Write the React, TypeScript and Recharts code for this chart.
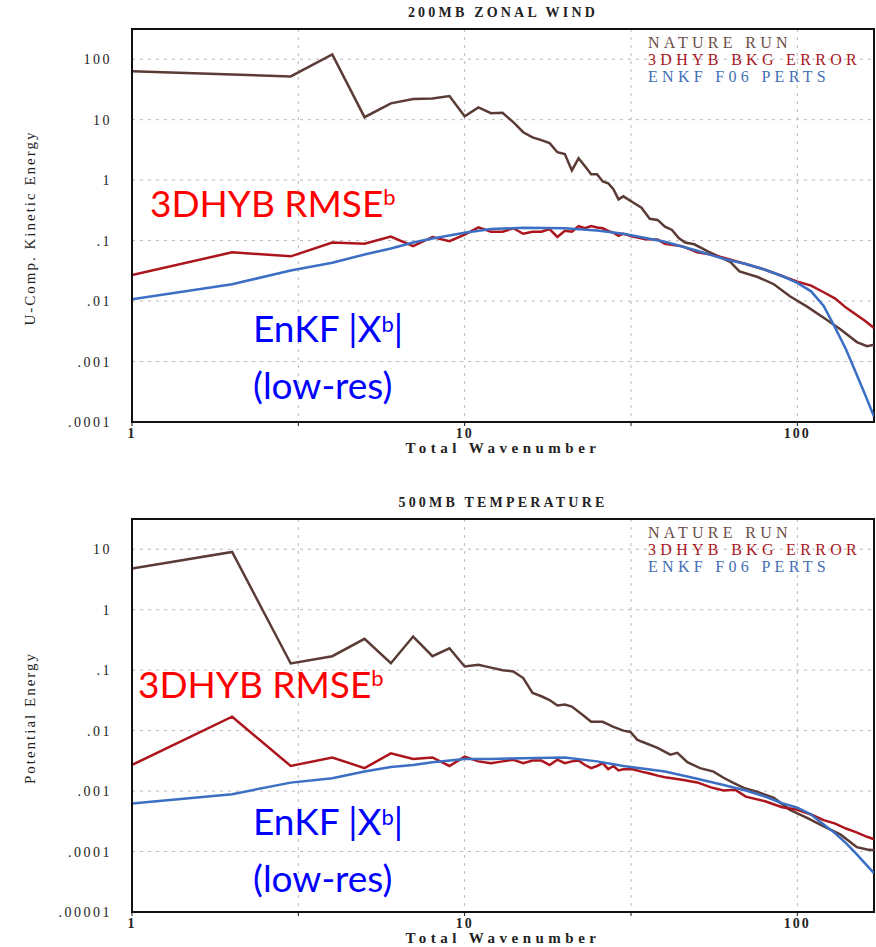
import React from 'react';
import { LineChart, Line, XAxis, YAxis, CartesianGrid, ReferenceArea, Legend } from 'recharts';

// ---------- shared labels ----------
const seriesNames = ['NATURE RUN', '3DHYB BKG ERROR', 'ENKF F06 PERTS'];
const chartTitles = ['200MB ZONAL WIND', '500MB TEMPERATURE'];
const yAxisTitles = ['U-Comp. Kinetic Energy', 'Potential Energy'];
const xAxisTitle = 'Total Wavenumber';
const hybAnnotation = '3DHYB RMSE';
const enkfAnnotation = 'EnKF |X';
const enkfAnnotation2 = '(low-res)';

const wavenumberDomain = [1, 170];
const wavenumberTicks = [1, 3.1623, 10, 31.623, 100];
const wavenumberTickLabels = ['1', '', '10', '', '100'];

const windYDomain = [0.0001, 316.23];
const windYTicks = [0.0001, 0.001, 0.01, 0.1, 1, 10, 100];
const windYTickLabels = ['.0001', '.001', '.01', '.1', '1', '10', '100'];

const tempYDomain = [0.00001, 31.623];
const tempYTicks = [0.00001, 0.0001, 0.001, 0.01, 0.1, 1, 10];
const tempYTickLabels = ['.00001', '.0001', '.001', '.01', '.1', '1', '10'];

// ---------- 200MB zonal wind ----------
const windNatureK = [1, 2, 3, 4, 5, 6, 7, 8, 9, 10, 11, 12, 13, 14, 15, 16, 17, 18, 19, 20, 21, 22, 23, 24, 25, 26, 27, 28, 29, 30, 32, 34, 36, 38, 40, 42, 44, 46, 49, 54, 63, 67, 76, 85, 95, 107, 120, 135, 151, 162, 170];
const windNatureV = [63, 56, 52, 120, 11, 18.6, 22, 22.4, 24.6, 11.4, 16, 12.8, 13, 9.1, 6.2, 5.1, 4.6, 4.1, 2.9, 2.7, 1.45, 2.3, 1.7, 1.25, 1.25, 0.95, 0.89, 0.71, 0.48, 0.54, 0.43, 0.35, 0.23, 0.22, 0.17, 0.15, 0.11, 0.093, 0.087, 0.066, 0.044, 0.031, 0.025, 0.019, 0.012, 0.0081, 0.0053, 0.0034, 0.0021, 0.0018, 0.0019];

const windHybK = [1, 2, 3, 4, 5, 6, 7, 8, 9, 10, 11, 12, 13, 14, 15, 16, 17, 18, 19, 20, 21, 22, 23, 24, 25, 26, 27, 28, 29, 30, 32, 35, 38, 40, 45, 50, 55, 60, 70, 80, 90, 100, 110, 120, 130, 140, 150, 160, 170];
const windHybV = [0.027, 0.064, 0.055, 0.093, 0.089, 0.117, 0.081, 0.115, 0.098, 0.126, 0.166, 0.14, 0.14, 0.16, 0.13, 0.14, 0.14, 0.155, 0.115, 0.145, 0.14, 0.174, 0.16, 0.174, 0.165, 0.16, 0.145, 0.135, 0.12, 0.13, 0.117, 0.105, 0.104, 0.089, 0.081, 0.064, 0.059, 0.052, 0.041, 0.033, 0.026, 0.021, 0.018, 0.014, 0.011, 0.0078, 0.006, 0.0047, 0.0036];

const windEnkfK = [1, 2, 3, 4, 5, 6, 7, 8, 10, 12, 15, 20, 25, 30, 40, 50, 60, 70, 80, 90, 100, 110, 120, 130, 140, 150, 160, 170];
const windEnkfV = [0.0107, 0.019, 0.032, 0.043, 0.059, 0.074, 0.093, 0.108, 0.135, 0.155, 0.163, 0.16, 0.147, 0.13, 0.096, 0.068, 0.05, 0.041, 0.033, 0.026, 0.02, 0.0145, 0.0083, 0.0036, 0.0016, 0.00065, 0.00028, 0.000123];

// ---------- 500MB temperature ----------
const tempNatureK = [1, 2, 3, 4, 5, 6, 7, 8, 9, 10, 11, 12, 13, 14, 15, 16, 17, 18, 19, 20, 21, 23, 24, 26, 28, 30, 31.5, 33, 34, 38, 41.5, 43.6, 46.7, 51, 56, 60, 64, 69, 76, 85, 95, 107, 120, 135, 151, 162, 170];
const tempNatureV = [4.8, 9.0, 0.129, 0.17, 0.33, 0.13, 0.36, 0.17, 0.23, 0.115, 0.123, 0.11, 0.1, 0.095, 0.074, 0.042, 0.037, 0.032, 0.026, 0.027, 0.025, 0.017, 0.014, 0.014, 0.0115, 0.01, 0.0095, 0.0071, 0.0066, 0.0052, 0.004, 0.0043, 0.003, 0.0024, 0.0021, 0.00166, 0.00138, 0.00113, 0.00097, 0.00077, 0.00049, 0.00036, 0.00026, 0.00019, 0.000118, 0.000108, 0.000105];

const tempHybK = [1, 2, 3, 4, 5, 6, 7, 8, 9, 10, 11, 12, 13, 14, 15, 16, 17, 18, 19, 20, 21, 22, 23, 24, 25, 26, 27, 28, 29, 30, 32, 34, 36, 38, 40, 45, 50, 55, 60, 65, 70, 80, 90, 100, 110, 120, 130, 140, 150, 160, 170];
const tempHybV = [0.0027, 0.017, 0.0026, 0.0036, 0.0024, 0.0042, 0.0034, 0.0036, 0.0026, 0.0037, 0.0031, 0.0029, 0.0031, 0.0033, 0.0029, 0.0032, 0.0032, 0.0027, 0.0033, 0.0029, 0.0031, 0.0032, 0.0027, 0.0024, 0.0026, 0.0029, 0.0023, 0.0026, 0.0022, 0.0023, 0.0023, 0.0021, 0.00195, 0.0018, 0.0017, 0.00154, 0.00139, 0.00115, 0.00102, 0.00105, 0.00081, 0.00068, 0.00054, 0.00049, 0.00041, 0.00033, 0.00029, 0.00024, 0.00021, 0.00018, 0.00016];

const tempEnkfK = [1, 2, 3, 4, 5, 6, 7, 8, 10, 12, 15, 20, 25, 30, 40, 50, 60, 70, 80, 90, 100, 110, 120, 130, 140, 150, 160, 170];
const tempEnkfV = [0.00062, 0.00089, 0.00138, 0.00163, 0.0021, 0.0025, 0.0027, 0.003, 0.0034, 0.0034, 0.0035, 0.0036, 0.0031, 0.0026, 0.0021, 0.0016, 0.00126, 0.00102, 0.00081, 0.00063, 0.00053, 0.00041, 0.00028, 0.0002, 0.000138, 0.000093, 0.000063, 0.000044];

// ---------- styles ----------
const NATURE_COLOR = '#5b3b35';
const HYB_COLOR = '#ac151c';
const ENKF_COLOR = '#3b6fc4';
const LEGEND_COLORS = ['#6a4e48', '#a8161c', '#3f6fb6'];
const SERIF = '"Liberation Serif", "Times New Roman", serif';
const SANS = 'Lato, "Open Sans", sans-serif';

const pairs = (k: number[], v: number[]) => k.map((x, i) => ({ k: x, v: v[i] }));

type Props = {
  top: number;
  height: number;
  marginBottom: number;
  title: string;
  yLabel: string;
  yDomain: number[];
  yTicks: number[];
  yTickLabels: string[];
  nature: { k: number; v: number }[];
  hyb: { k: number; v: number }[];
  enkf: { k: number; v: number }[];
  hybPos: { left: number; top: number };
  enkfPos: { left: number; top: number };
};

const PLOT_LEFT = 132;
const PLOT_RIGHT = 874;
const PLOT_TOP = 29;
const Y_AXIS_W = 60;
const X_AXIS_H = 30;

function LegendContent(props: any) {
  const payload = [...(props.payload || [])].sort(
    (a: any, b: any) => seriesNames.indexOf(a.value) - seriesNames.indexOf(b.value)
  );
  return (
    <div style={{ fontFamily: SERIF, fontSize: 16, letterSpacing: 4.3, lineHeight: '17px', whiteSpace: 'nowrap' }}>
      {payload.map((p: any) => (
        <div key={p.value} style={{ color: LEGEND_COLORS[seriesNames.indexOf(p.value)] }}>{p.value}</div>
      ))}
    </div>
  );
}

function SpectrumChart(p: Props) {
  const plotBottom = p.height - p.marginBottom - X_AXIS_H;
  const plotCenterY = (PLOT_TOP + plotBottom) / 2;
  const plotCenterX = (PLOT_LEFT + PLOT_RIGHT) / 2;
  return (
    <div style={{ position: 'absolute', left: 0, top: p.top, width: 876, height: p.height }}>
      <LineChart
        width={876}
        height={p.height}
        margin={{ top: PLOT_TOP, right: 876 - PLOT_RIGHT, bottom: p.marginBottom, left: PLOT_LEFT - Y_AXIS_W }}
      >
        <CartesianGrid stroke="#b8b8b8" strokeDasharray="3 5" strokeWidth={1} />
        <XAxis
          type="number"
          dataKey="k"
          scale="log"
          domain={wavenumberDomain}
          allowDataOverflow
          ticks={wavenumberTicks}
          tickFormatter={(v: number) => wavenumberTickLabels[wavenumberTicks.indexOf(v)] ?? ''}
          height={X_AXIS_H}
          tickSize={4}
          tickMargin={2}
          axisLine={{ stroke: '#111', strokeWidth: 2 }}
          tickLine={{ stroke: '#111', strokeWidth: 1 }}
          tick={{ fill: '#222', fontSize: 14, fontFamily: SERIF, letterSpacing: 2, fontWeight: 'bold' }}
        />
        <YAxis
          type="number"
          dataKey="v"
          scale="log"
          domain={p.yDomain}
          allowDataOverflow
          ticks={p.yTicks}
          tickFormatter={(v: number) => p.yTickLabels[p.yTicks.indexOf(v)] ?? ''}
          width={Y_AXIS_W}
          tickLine={false}
          tickMargin={14}
          axisLine={{ stroke: '#111', strokeWidth: 2 }}
          tick={{ fill: '#222', fontSize: 14, fontFamily: SERIF, letterSpacing: 2.5 }}
        />
        <ReferenceArea
          x1={wavenumberDomain[0]}
          x2={wavenumberDomain[1]}
          y1={p.yDomain[0]}
          y2={p.yDomain[1]}
          fill="none"
          fillOpacity={0}
          stroke="#111"
          strokeWidth={2}
          ifOverflow="visible"
        />
        <Legend
          layout="horizontal"
          verticalAlign="middle"
          align="center"
          content={LegendContent}
          wrapperStyle={{ left: 648, top: 34, width: 228, height: 54 }}
        />
        <Line data={p.nature} dataKey="v" name={seriesNames[0]} stroke={NATURE_COLOR} strokeWidth={2.5} dot={false} isAnimationActive={false} />
        <Line data={p.hyb} dataKey="v" name={seriesNames[1]} stroke={HYB_COLOR} strokeWidth={2.5} dot={false} isAnimationActive={false} />
        <Line data={p.enkf} dataKey="v" name={seriesNames[2]} stroke={ENKF_COLOR} strokeWidth={2.5} dot={false} isAnimationActive={false} />
      </LineChart>

      {/* title */}
      <div style={{ position: 'absolute', left: PLOT_LEFT, width: PLOT_RIGHT - PLOT_LEFT, top: 5, textAlign: 'center', fontFamily: SERIF, fontSize: 14, fontWeight: 'bold', letterSpacing: 3.2, color: '#222', lineHeight: '16px', whiteSpace: 'nowrap' }}>
        {p.title}
      </div>
      {/* y axis title */}
      <div style={{ position: 'absolute', left: 30, top: plotCenterY + 2, transform: 'translate(-50%, -50%) rotate(-90deg)', fontFamily: SERIF, fontSize: 15, letterSpacing: 2, color: '#222', whiteSpace: 'nowrap', lineHeight: '18px' }}>
        {p.yLabel}
      </div>
      {/* x axis title */}
      <div style={{ position: 'absolute', left: plotCenterX - 150, width: 300, top: plotBottom + 18, textAlign: 'center', fontFamily: SERIF, fontSize: 15, fontWeight: 'bold', letterSpacing: 4.5, color: '#222', lineHeight: '16px', whiteSpace: 'nowrap' }}>
        {xAxisTitle}
      </div>
      {/* annotations */}
      <div style={{ position: 'absolute', left: p.hybPos.left, top: p.hybPos.top, fontFamily: SANS, fontSize: 37, lineHeight: '37px', color: '#ff0000', whiteSpace: 'nowrap' }}>
        {hybAnnotation}<span style={{ fontSize: 22, position: 'relative', top: -12 }}>b</span>
      </div>
      <div style={{ position: 'absolute', left: p.enkfPos.left, top: p.enkfPos.top, fontFamily: SANS, fontSize: 37, lineHeight: '51px', color: '#0000ff', whiteSpace: 'nowrap' }}>
        <div>{enkfAnnotation}<span style={{ fontSize: 22, position: 'relative', top: -10 }}>b</span>|</div>
        <div>{enkfAnnotation2}</div>
      </div>
    </div>
  );
}

export default function App() {
  return (
    <div style={{ position: 'absolute', left: 0, top: 0, width: 876, height: 947, background: '#fff', overflow: 'hidden' }}>
      <SpectrumChart
        top={0}
        height={470}
        marginBottom={18}
        title={chartTitles[0]}
        yLabel={yAxisTitles[0]}
        yDomain={windYDomain}
        yTicks={windYTicks}
        yTickLabels={windYTickLabels}
        nature={pairs(windNatureK, windNatureV)}
        hyb={pairs(windHybK, windHybV)}
        enkf={pairs(windEnkfK, windEnkfV)}
        hybPos={{ left: 150, top: 184 }}
        enkfPos={{ left: 253, top: 302 }}
      />
      <SpectrumChart
        top={490}
        height={457}
        marginBottom={5}
        title={chartTitles[1]}
        yLabel={yAxisTitles[1]}
        yDomain={tempYDomain}
        yTicks={tempYTicks}
        yTickLabels={tempYTickLabels}
        nature={pairs(tempNatureK, tempNatureV)}
        hyb={pairs(tempHybK, tempHybV)}
        enkf={pairs(tempEnkfK, tempEnkfV)}
        hybPos={{ left: 138, top: 175 }}
        enkfPos={{ left: 253, top: 305 }}
      />
    </div>
  );
}
